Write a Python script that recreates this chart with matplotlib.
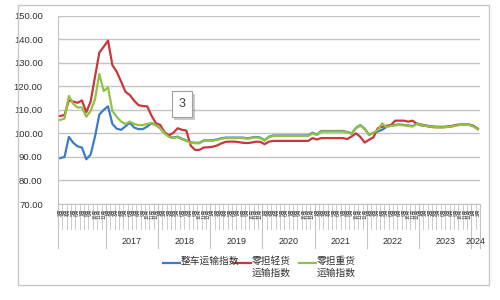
import matplotlib
matplotlib.use('Agg')
import matplotlib.pyplot as plt
import matplotlib.patheffects as pe
from matplotlib.lines import Line2D
from matplotlib.patches import Rectangle
import pandas as pd

plt.rcParams['font.family'] = ['Liberation Sans', 'Noto Sans CJK SC', 'DejaVu Sans']

# monthly index, Feb 2016 .. Feb 2024
dates = pd.date_range('2016-02-01', periods=97, freq='MS')

whole_truck = [89.5, 90.0, 98.5, 96.0, 94.5, 94.0, 89.0, 91.0, 98.6, 108.0, 110.0,
               111.5, 104.0, 102.0, 101.5, 103.0, 104.5, 102.5, 101.8, 101.8, 102.9, 104.3, 103.5,
               102.2, 100.2, 98.7, 98.2, 98.6, 97.7, 97.0, 96.2, 96.0, 96.0, 97.0, 97.0,
               97.1, 97.4, 97.9, 98.2, 98.2, 98.2, 98.2, 98.2, 97.9, 98.2, 98.5, 98.2,
               97.1, 98.6, 99.1, 99.1, 99.1, 99.1, 99.1, 99.1, 99.1, 99.1, 99.1, 100.3,
               99.5, 101.0, 101.0, 101.0, 101.0, 101.0, 101.0, 100.6, 100.0, 102.4, 103.5, 102.0,
               99.4, 100.3, 100.8, 101.5, 102.8, 103.4, 103.6, 103.8, 103.6, 103.4, 103.1, 104.2,
               103.8, 103.4, 103.1, 102.9, 102.8, 102.8, 102.9, 103.1, 103.5, 103.8, 103.8, 103.8,
               103.1, 102.0]

ltl_light = [107.4, 107.8, 114.0, 113.5, 113.0, 114.0, 109.0, 113.5, 124.0, 134.3, 136.8,
             139.4, 129.0, 126.2, 122.0, 117.7, 116.3, 113.9, 112.0, 111.6, 111.5, 107.5, 104.3,
             103.6, 100.5, 99.2, 100.2, 102.2, 101.5, 101.2, 94.8, 93.0, 93.0, 94.0, 94.1,
             94.3, 94.8, 95.7, 96.4, 96.5, 96.5, 96.3, 96.0, 95.9, 96.1, 96.5, 96.4,
             95.4, 96.5, 96.8, 96.8, 96.8, 96.8, 96.8, 96.8, 96.8, 96.8, 96.8, 98.0,
             97.4, 98.0, 98.0, 98.0, 98.0, 98.0, 98.0, 97.6, 98.7, 100.0, 98.5, 96.1,
             97.3, 98.3, 102.2, 102.8, 103.2, 103.5, 105.4, 105.4, 105.4, 105.0, 105.4, 104.0,
             103.4, 103.2, 102.8, 102.6, 102.6, 102.6, 102.8, 103.0, 103.6, 103.6, 103.6, 103.6,
             103.2, 101.8]

ltl_heavy = [105.7, 106.3, 115.9, 112.5, 111.0, 111.0, 107.1, 109.5, 114.5, 125.2, 118.0,
             119.5, 109.5, 107.0, 105.0, 104.0, 105.0, 104.0, 103.5, 103.5, 104.0, 104.5, 103.5,
             102.2, 100.0, 98.5, 98.0, 98.4, 97.5, 96.8, 96.0, 95.8, 95.8, 96.8, 96.8,
             96.9, 97.2, 97.7, 98.0, 98.0, 98.0, 98.0, 98.0, 97.7, 98.0, 98.3, 98.0,
             96.9, 98.4, 98.9, 98.9, 98.9, 98.9, 98.9, 98.9, 98.9, 98.9, 98.9, 100.0,
             99.3, 100.8, 100.8, 100.8, 100.8, 100.8, 100.8, 100.4, 99.8, 102.2, 103.3, 101.8,
             99.2, 100.3, 101.4, 104.3, 102.6, 103.2, 103.4, 103.6, 103.4, 103.2, 102.9, 104.0,
             103.6, 103.2, 102.9, 102.7, 102.6, 102.6, 102.7, 102.9, 103.3, 103.6, 103.6, 103.6,
             102.9, 101.8]

series_names = ['整车运输指数', '零担轻货\n运输指数', '零担重货\n运输指数']
colors = ['#3c7bc8', '#c8383a', '#92c143']
yticks = [70, 80, 90, 100, 110, 120, 130, 140, 150]

fig = plt.figure(figsize=(5, 3), dpi=100)
fig.patch.set_facecolor('white')
fig.patches.append(Rectangle((0.036, 0.05), 0.942, 0.933, transform=fig.transFigure,
                             fill=False, ec='#c8c8c8', lw=1))

ax = fig.add_axes([0.116, 0.32, 0.844, 0.6277])
x = list(range(len(dates)))
for vals, c in zip([whole_truck, ltl_light, ltl_heavy], colors):
    ax.plot(x, vals, color=c, lw=1.6, solid_joinstyle='round')

ax.set_xlim(-0.5, len(dates) - 0.5)
ax.set_ylim(70, 150)
ax.set_yticks(yticks)
ax.set_yticklabels(['%.2f' % v for v in yticks], fontsize=6.8, color='#303030')
ax.tick_params(axis='y', length=0, pad=11)
ax.set_xticks([])
ax.grid(axis='y', color='#c4c4c4', lw=1)
ax.set_axisbelow(True)
for s in ['top', 'right']:
    ax.spines[s].set_visible(False)
ax.spines['left'].set_color('#c4c4c4')
ax.spines['bottom'].set_color('#c4c4c4')

# multi-level category axis: months, then years
tr = ax.get_xaxis_transform()
for i, d in enumerate(dates):
    ax.plot([i - 0.5, i - 0.5], [0, -0.135], transform=tr, color='#c4c4c4', lw=0.6, clip_on=False)
    ax.text(i, -0.022, '%d月' % d.month, transform=tr, rotation=90, ha='center', va='top',
            fontsize=3.5, family=['Noto Sans CJK SC'], color='#303030')
ax.plot([len(dates) - 0.5] * 2, [0, -0.135], transform=tr, color='#c4c4c4', lw=0.6, clip_on=False)

years = sorted(set(d.year for d in dates))
for y in years:
    idx = [i for i, d in enumerate(dates) if d.year == y]
    ax.plot([idx[0] - 0.5] * 2, [0, -0.235], transform=tr, color='#c4c4c4', lw=0.8, clip_on=False)
    if y > years[0]:
        ax.text((idx[0] + idx[-1]) / 2, -0.2, str(y), transform=tr, ha='center', va='center',
                fontsize=6.5, color='#303030')
ax.plot([len(dates) - 0.5] * 2, [0, -0.235], transform=tr, color='#c4c4c4', lw=0.8, clip_on=False)

# boxed data label
t = ax.text(28, 112.5, '3', ha='center', va='center', fontsize=9, color='#404040',
            bbox=dict(boxstyle='square,pad=0.55', fc='white', ec='#a0a0a0', lw=0.8))
t.get_bbox_patch().set_path_effects([pe.SimplePatchShadow(offset=(2, -2), alpha=0.3), pe.Normal()])

# legend: handle sits beside the first line of each label
legend_x = [0.326, 0.468, 0.598]
for lx, name, c in zip(legend_x, series_names, colors):
    fig.add_artist(Line2D([lx, lx + 0.034], [0.123, 0.123], transform=fig.transFigure, color=c, lw=1.6))
    fig.text(lx + 0.036, 0.148, name, ha='left', va='top', fontsize=7,
             family=['Noto Sans CJK SC'], color='#303030', linespacing=1.3)

fig.savefig('out.png', dpi=100)
